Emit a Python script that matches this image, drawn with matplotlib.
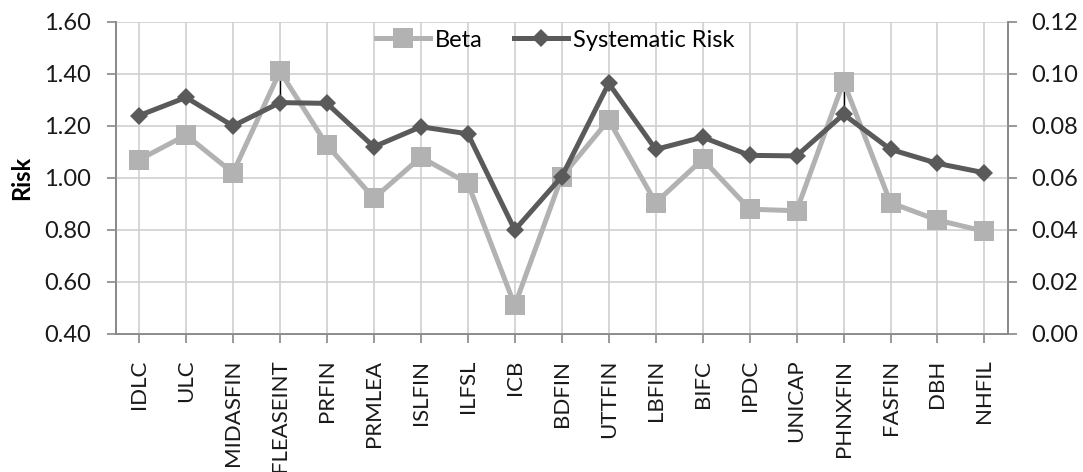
import numpy as np
import matplotlib
matplotlib.use('Agg')
import matplotlib.pyplot as plt

# data
companies = ['IDLC', 'ULC', 'MIDASFIN', 'FLEASEINT', 'PRFIN', 'PRMLEA', 'ISLFIN',
             'ILFSL', 'ICB', 'BDFIN', 'UTTFIN', 'LBFIN', 'BIFC', 'IPDC', 'UNICAP',
             'PHNXFIN', 'FASFIN', 'DBH', 'NHFIL']
beta = [1.07, 1.165, 1.02, 1.41, 1.127, 0.922, 1.08, 0.98, 0.51, 1.005, 1.223,
        0.905, 1.072, 0.88, 0.874, 1.37, 0.905, 0.838, 0.795]
sys_risk = [0.084, 0.091, 0.080, 0.089, 0.0887, 0.072, 0.0797, 0.077, 0.040, 0.0605,
            0.0964, 0.071, 0.0757, 0.0687, 0.0685, 0.0845, 0.071, 0.0656, 0.062]
left_ticks = [0.40, 0.60, 0.80, 1.00, 1.20, 1.40, 1.60]
right_ticks = [0.00, 0.02, 0.04, 0.06, 0.08, 0.10, 0.12]

plt.rcParams['font.family'] = ['Lato', 'DejaVu Sans']
beta_col = '#B2B2B2'
sr_col = '#5A5A5A'
spine_col = '#888888'
grid_col = '#CFCFCF'
fs = 17

fig = plt.figure(figsize=(10.83, 4.72), dpi=100)
ax = fig.add_axes([0.1067, 0.2924, 0.824, 0.661])
ax2 = ax.twinx()

x = np.arange(len(companies))

ax.set_ylim(0.40, 1.60)
ax2.set_ylim(0.00, 0.12)
ax.set_xlim(-0.5, len(companies) - 0.5)

# high-low style lines where beta sits above systematic risk
sr_on_left = 0.40 + np.array(sys_risk) * 10
for i in range(len(companies)):
    if beta[i] > sr_on_left[i] + 0.05:
        ax.plot([x[i], x[i]], [sr_on_left[i], beta[i]], color='black', lw=1, zorder=2)

l1, = ax.plot(x, beta, color=beta_col, lw=3.6, marker='s', markersize=14,
              markeredgewidth=0, label='Beta', zorder=3)
ax.set_zorder(ax2.get_zorder() + 1)
ax.patch.set_visible(False)
l2, = ax.plot(x, sr_on_left, color=sr_col, lw=3.6, marker='D', markersize=9.5,
              markeredgewidth=0, label='Systematic Risk', zorder=4)

ax.set_yticks(left_ticks)
ax.set_yticklabels(['%.2f' % v for v in left_ticks])
ax2.set_yticks(right_ticks)
ax2.set_yticklabels(['%.2f' % v for v in right_ticks])
ax.set_xticks(x)
ax.set_xticklabels(companies, rotation=90)

ax.grid(True, color=grid_col, lw=1.2)
ax.set_axisbelow(True)

for a in (ax, ax2):
    for s in a.spines.values():
        s.set_color(spine_col)
        s.set_linewidth(1.2)
    a.spines['top'].set_visible(False)
    a.tick_params(colors=spine_col, labelcolor='#1a1a1a', labelsize=fs,
                  length=6.5, width=1.2, direction='out')
ax.tick_params(axis='x', pad=12, labelsize=16)
ax.tick_params(axis='y', pad=11)
ax2.tick_params(axis='y', pad=10)

ax.set_ylabel('Risk', fontsize=fs, fontweight='bold', labelpad=8)

ax.legend(handles=[l1, l2], loc='center', bbox_to_anchor=(0.4925, 0.942), ncol=2,
          frameon=False, fontsize=fs, handlelength=2.3, handletextpad=0.2,
          columnspacing=1.3, borderaxespad=0)

fig.savefig('out.png', dpi=100)
